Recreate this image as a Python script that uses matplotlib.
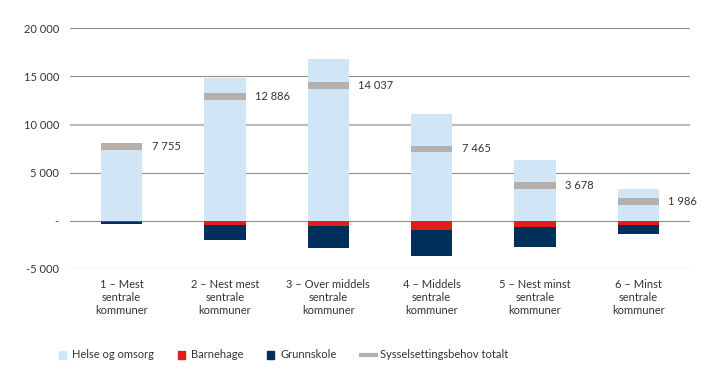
import numpy as np
import matplotlib.pyplot as plt
from matplotlib.patches import Rectangle
from matplotlib.lines import Line2D

plt.rcParams['font.family'] = ['Lato', 'DejaVu Sans']

categories = ['1 – Mest\nsentrale\nkommuner', '2 – Nest mest\nsentrale\nkommuner',
              '3 – Over middels\nsentrale\nkommuner', '4 – Middels\nsentrale\nkommuner',
              '5 – Nest minst\nsentrale\nkommuner', '6 – Minst\nsentrale\nkommuner']
helse = [8050, 14850, 16840, 11150, 6370, 3300]
barnehage = [-170, -420, -520, -990, -690, -415]
grunnskole = [-130, -1545, -2280, -2695, -2000, -900]
totalt = [7755, 12886, 14037, 7465, 3678, 1986]

c_helse = '#d0e6f6'
c_barn = '#e21d19'
c_grunn = '#002f59'
c_tot = '#b7b0aa'
txt = '#333333'

def fmt(v):
  s = f'{v:,}'.replace(',', ' ')
  return s

W, H = 719, 383
fig = plt.figure(figsize=(W / 100, H / 100), dpi=100)
ax = fig.add_axes([0.0974, 0.2977, 0.8623, 0.6283])

x = np.arange(len(categories))
w = 0.4
ax.bar(x, helse, w, color=c_helse, zorder=2)
ax.bar(x, barnehage, w, color=c_barn, zorder=2)
ax.bar(x, grunnskole, w, bottom=barnehage, color=c_grunn, zorder=2)
# total as thick horizontal band
ax.bar(x, 700, w, bottom=np.array(totalt) - 350, color=c_tot, zorder=3)
for xi, t in zip(x, totalt):
  ax.text(xi + w / 2 + 0.09, t, fmt(t), va='center', ha='left', fontsize=8, color=txt)

ax.set_xlim(-0.5, 5.5)
ax.set_ylim(-5000, 20000)
yt = [-5000, 0, 5000, 10000, 15000, 20000]
ax.set_yticks(yt)
ax.set_yticklabels([('-' if v == 0 else fmt(v)) for v in yt], fontsize=8, color=txt)
ax.set_xticks(x)
ax.set_xticklabels(categories, fontsize=8, color=txt, linespacing=1.25)
ax.tick_params(axis='both', length=0)
ax.tick_params(axis='y', pad=8)
ax.tick_params(axis='x', pad=7)
for v in yt:
  ax.axhline(v, color='#bdbdbd' if v == 10000 else '#8c8c8c', lw=1.6 if v == 10000 else 0.8, zorder=1)
for s in ax.spines.values():
  s.set_visible(False)

# legend placed by hand, in figure pixels
labels = ['Helse og omsorg', 'Barnehage', 'Grunnskole', 'Sysselsettingsbehov totalt']
colors = [c_helse, c_barn, c_grunn, c_tot]
renderer = fig.canvas.get_renderer()
ly = H - 355
sx = 59
for lab, col in zip(labels, colors):
  if lab.startswith('Syssel'):
    fig.add_artist(Line2D([sx / W, (sx + 16) / W], [ly / H, ly / H], color=col, lw=3))
    tx = sx + 20
  else:
    fig.add_artist(Rectangle((sx / W, (ly - 4) / H), 7 / W, 8 / H, color=col))
    tx = sx + 13
  t = fig.text(tx / W, ly / H, lab, fontsize=8, color=txt, va='center', ha='left')
  sx = tx + t.get_window_extent(renderer).width + 24

fig.savefig('out.png', dpi=100)
